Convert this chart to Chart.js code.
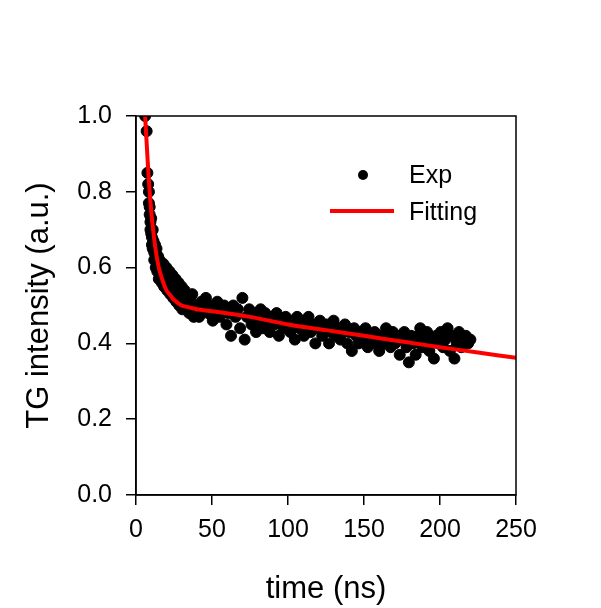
<!DOCTYPE html>
<html>
<head>
<meta charset="utf-8">
<script src="https://cdn.jsdelivr.net/npm/chart.js@4"></script>
<style>
  html, body { margin: 0; padding: 0; background: #fff; }
  #wrap { width: 601px; height: 608px; }
</style>
</head>
<body>
<div id="wrap"><canvas id="grafico" width="601" height="608"></canvas></div>
<script>
const expX = [6, 7, 7.5, 8, 8.5, 8.5, 9, 9, 9.5, 9.5, 10, 10, 10.5, 10.5, 11, 11, 11.5, 12, 12, 12.5, 13, 13, 13.5, 14, 14, 14.5, 15, 15, 15.5, 16, 16.5, 17, 17.5, 18, 18.5, 19,
  20, 20.5, 21, 22, 22.5, 23, 24, 24.5, 25, 26, 26.5, 27, 28, 28.5, 29, 30, 30.5, 31, 32, 33, 34, 35, 36, 37, 38, 39,
  40, 41.5, 43, 44.5, 46, 47.5, 49, 50.5, 52, 53.5, 55, 56.5, 58, 59.5, 61, 62.5, 64, 65.5, 67, 68.5, 70, 71.5, 73, 74.5, 76, 77.5, 79, 80.5,
  82, 83.5, 85, 86.5, 88, 89.5, 91, 92.5, 94, 95.5, 97, 98.5, 100, 101.5, 103, 104.5, 106, 107.5, 109, 110.5, 112, 113.5, 115, 116.5, 118, 119.5,
  121, 122.5, 124, 125.5, 127, 128.5, 130, 131.5, 133, 134.5, 136, 137.5, 139, 140.5, 142, 143.5, 145, 146.5, 148, 149.5, 151, 152.5, 154, 155.5,
  157, 158.5, 160, 161.5, 163, 164.5, 166, 167.5, 169, 170.5, 172, 173.5, 175, 176.5, 178, 179.5, 181, 182.5, 184, 185.5, 187, 188.5, 190, 191.5,
  193, 194.5, 196, 197.5, 199, 200.5, 202, 203.5, 205, 206.5, 208, 209.5, 211, 212.5, 214, 215.5, 217, 218.5, 220];
const expY = [1.0, 0.96, 0.85, 0.82, 0.80, 0.77, 0.76, 0.74, 0.72, 0.70, 0.73, 0.69, 0.68, 0.66, 0.70, 0.65, 0.67, 0.64, 0.62, 0.66, 0.63, 0.60, 0.65, 0.61, 0.59, 0.63, 0.60, 0.57, 0.62, 0.58, 0.60, 0.56, 0.59, 0.61, 0.55, 0.58,
  0.60, 0.54, 0.57, 0.59, 0.53, 0.56, 0.58, 0.52, 0.55, 0.57, 0.51, 0.54, 0.56, 0.50, 0.53, 0.55, 0.49, 0.52, 0.54, 0.50, 0.52, 0.48, 0.51, 0.53, 0.47, 0.50,
  0.50, 0.47, 0.51, 0.49, 0.52, 0.48, 0.50, 0.46, 0.49, 0.51, 0.47, 0.49, 0.50, 0.45, 0.48, 0.42, 0.50, 0.47, 0.49, 0.44, 0.52, 0.41, 0.47, 0.49, 0.45, 0.48, 0.43, 0.46,
  0.49, 0.44, 0.48, 0.46, 0.43, 0.47, 0.45, 0.48, 0.42, 0.46, 0.44, 0.47, 0.45, 0.43, 0.46, 0.41, 0.47, 0.44, 0.46, 0.42, 0.45, 0.47, 0.43, 0.45, 0.40, 0.44,
  0.46, 0.42, 0.44, 0.45, 0.40, 0.43, 0.46, 0.42, 0.44, 0.41, 0.43, 0.45, 0.40, 0.43, 0.38, 0.44, 0.42, 0.40, 0.43, 0.41, 0.44, 0.39, 0.42, 0.40,
  0.43, 0.41, 0.38, 0.42, 0.40, 0.44, 0.41, 0.39, 0.43, 0.40, 0.42, 0.37, 0.41, 0.43, 0.39, 0.35, 0.42, 0.40, 0.37, 0.42, 0.44, 0.39, 0.41, 0.43,
  0.38, 0.41, 0.36, 0.42, 0.40, 0.43, 0.39, 0.41, 0.44, 0.38, 0.42, 0.36, 0.40, 0.43, 0.39, 0.41, 0.42, 0.40, 0.41];

// curva de ajuste
const fitX = [6, 7, 8, 9, 10, 11, 12, 13, 14, 15, 16, 18, 20, 22, 25, 30, 35, 40, 50, 75, 100, 125, 150, 175, 200, 225, 250];
const fitY = [1.0, 0.93, 0.86, 0.80, 0.75, 0.71, 0.675, 0.645, 0.62, 0.60, 0.585, 0.56, 0.54, 0.53, 0.515, 0.50, 0.495, 0.49, 0.485, 0.47, 0.45, 0.435, 0.42, 0.405, 0.39, 0.376, 0.362];

const xTicks = [0, 50, 100, 150, 200, 250];
const yTicks = [0.0, 0.2, 0.4, 0.6, 0.8, 1.0];

const fuente = "'Liberation Sans', Arial, sans-serif";

// marco superior/derecho y leyenda dentro del area
const marco = {
  id: 'marco',
  afterDraw(chart) {
    const { ctx, chartArea: a } = chart;
    ctx.save();
    ctx.strokeStyle = '#000';
    ctx.lineWidth = 1.5;
    ctx.strokeRect(a.left, a.top, a.right - a.left, a.bottom - a.top);

    // leyenda
    ctx.fillStyle = '#000';
    ctx.beginPath();
    ctx.arc(363, 175, 5, 0, Math.PI * 2);
    ctx.fill();
    ctx.strokeStyle = '#ff0000';
    ctx.lineWidth = 4;
    ctx.beginPath();
    ctx.moveTo(330, 211);
    ctx.lineTo(394, 211);
    ctx.stroke();
    ctx.fillStyle = '#000';
    ctx.font = '25px ' + fuente;
    ctx.textBaseline = 'middle';
    ctx.fillText('Exp', 409, 176);
    ctx.fillText('Fitting', 409, 213);
    ctx.restore();
  }
};

new Chart(document.getElementById('grafico'), {
  type: 'scatter',
  data: {
    datasets: [
      {
        label: 'Exp',
        data: expX.map((x, i) => ({ x: x, y: expY[i] })),
        backgroundColor: '#000',
        borderColor: '#000',
        pointRadius: 5.5,
        order: 2
      },
      {
        label: 'Fitting',
        type: 'line',
        data: fitX.map((x, i) => ({ x: x, y: fitY[i] })),
        borderColor: '#ff0000',
        borderWidth: 4,
        pointRadius: 0,
        tension: 0.3,
        fill: false,
        order: 1
      }
    ]
  },
  options: {
    responsive: false,
    animation: false,
    layout: { padding: { top: 116, right: 85, left: 0, bottom: 0 } },
    plugins: { legend: { display: false }, tooltip: { enabled: false } },
    scales: {
      x: {
        type: 'linear',
        min: 0, max: 250,
        afterBuildTicks: s => { s.ticks = xTicks.map(v => ({ value: v })); },
        afterFit: s => { s.height = 113; },
        grid: { drawOnChartArea: false, drawTicks: true, tickLength: 10, color: '#000', lineWidth: 1.5 },
        border: { display: true, color: '#000', width: 1.5 },
        ticks: { color: '#000', padding: 10, font: { family: fuente, size: 25 }, maxRotation: 0 },
        title: { display: true, text: 'time (ns)', color: '#000', font: { family: fuente, size: 31 }, padding: { top: 4, bottom: 0 } }
      },
      y: {
        min: 0, max: 1,
        afterBuildTicks: s => { s.ticks = yTicks.map(v => ({ value: v })); },
        afterFit: s => { s.width = 136; },
        grid: { drawOnChartArea: false, drawTicks: true, tickLength: 10, color: '#000', lineWidth: 1.5 },
        border: { display: true, color: '#000', width: 1.5 },
        ticks: { color: '#000', padding: 14, font: { family: fuente, size: 25 }, callback: v => v.toFixed(1) },
        title: { display: true, text: 'TG intensity (a.u.)', color: '#000', font: { family: fuente, size: 31 }, padding: { bottom: 0, top: 21 } }
      }
    }
  },
  plugins: [marco]
});
</script>
</body>
</html>
